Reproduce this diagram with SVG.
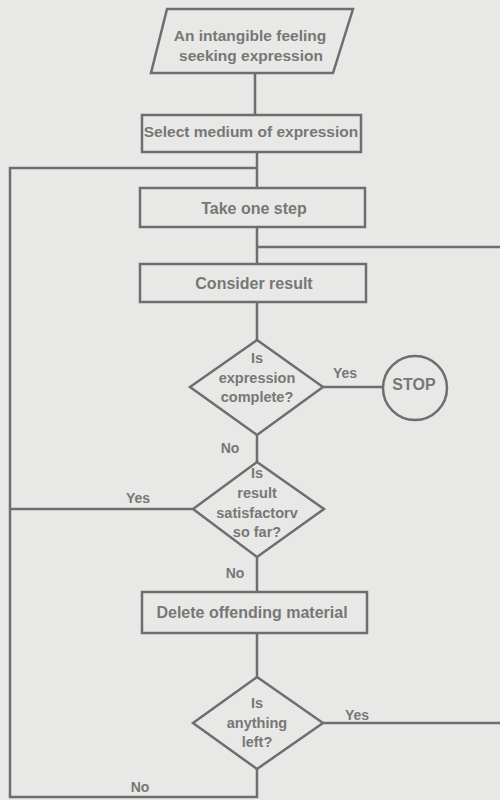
<svg xmlns="http://www.w3.org/2000/svg" width="500" height="800" viewBox="0 0 500 800">
<style>
.bg{fill:#e8e8e6}
.shape{fill:none;stroke:#6e6e6e;stroke-width:2.5}
.line{fill:none;stroke:#6e6e6e;stroke-width:2.5}
text{font-family:"Liberation Sans",Arial,sans-serif;font-weight:bold;fill:#777;text-anchor:middle;dominant-baseline:central}
.t16{font-size:16px}
.t15{font-size:15.5px}
.t14{font-size:14.5px}
.lbl{font-size:14px}
</style>
<rect class="bg" x="0" y="0" width="500" height="800"/>
<g id="connectors">
<line class="line" x1="255" y1="73" x2="255" y2="115"/>
<line class="line" x1="257" y1="152" x2="257" y2="188"/>
<polyline class="line" points="257,168 10,168 10,797 257,797 257,769"/>
<line class="line" x1="257" y1="227" x2="257" y2="264"/>
<line class="line" x1="257" y1="247" x2="500" y2="247"/>
<line class="line" x1="257" y1="302" x2="257" y2="340"/>
<line class="line" x1="323" y1="387" x2="383" y2="387"/>
<line class="line" x1="257" y1="435" x2="257" y2="462"/>
<line class="line" x1="10" y1="509" x2="193" y2="509"/>
<line class="line" x1="257" y1="557" x2="257" y2="592"/>
<line class="line" x1="257" y1="633" x2="257" y2="677"/>
<line class="line" x1="323" y1="723" x2="500" y2="723"/>
<text class="lbl" x="345" y="373">Yes</text>
<text class="lbl" x="230" y="448">No</text>
<text class="lbl" x="138" y="498">Yes</text>
<text class="lbl" x="235" y="573">No</text>
<text class="lbl" x="357" y="715">Yes</text>
<text class="lbl" x="140" y="787">No</text>
</g>
<g id="start">
<polygon class="shape" points="167,9 353,9 333,73 151,73"/>
<text class="t15" x="250" y="35">An intangible feeling</text>
<text class="t15" x="251" y="55">seeking expression</text>
</g>
<g id="select">
<rect class="shape" x="142" y="115" width="219" height="37"/>
<text class="t15" x="251" y="131">Select medium of expression</text>
</g>
<g id="step">
<rect class="shape" x="140" y="188" width="225" height="39"/>
<text class="t16" x="254" y="208">Take one step</text>
</g>
<g id="consider">
<rect class="shape" x="140" y="264" width="226" height="38"/>
<text class="t16" x="254" y="283">Consider result</text>
</g>
<g id="complete">
<polygon class="shape" points="257,340 323,387 257,435 190,387"/>
<text class="t14" x="257" y="358">Is</text>
<text class="t14" x="257" y="378">expression</text>
<text class="t14" x="257" y="397">complete?</text>
</g>
<g id="stop">
<circle class="shape" cx="415" cy="388" r="32"/>
<text class="t16" x="414" y="384">STOP</text>
</g>
<g id="satisfactory">
<polygon class="shape" points="257,462 324,509 257,557 193,509"/>
<text class="t14" x="257" y="473">Is</text>
<text class="t14" x="257" y="493">result</text>
<text class="t14" x="257" y="513">satisfactorv</text>
<text class="t14" x="257" y="532">so far?</text>
</g>
<g id="delete">
<rect class="shape" x="142" y="592" width="225" height="41"/>
<text class="t16" x="252" y="612">Delete offending material</text>
</g>
<g id="left">
<polygon class="shape" points="257,677 323,723 257,769 193,723"/>
<text class="t14" x="257" y="703">Is</text>
<text class="t14" x="257" y="723">anything</text>
<text class="t14" x="257" y="742">left?</text>
</g>
</svg>
